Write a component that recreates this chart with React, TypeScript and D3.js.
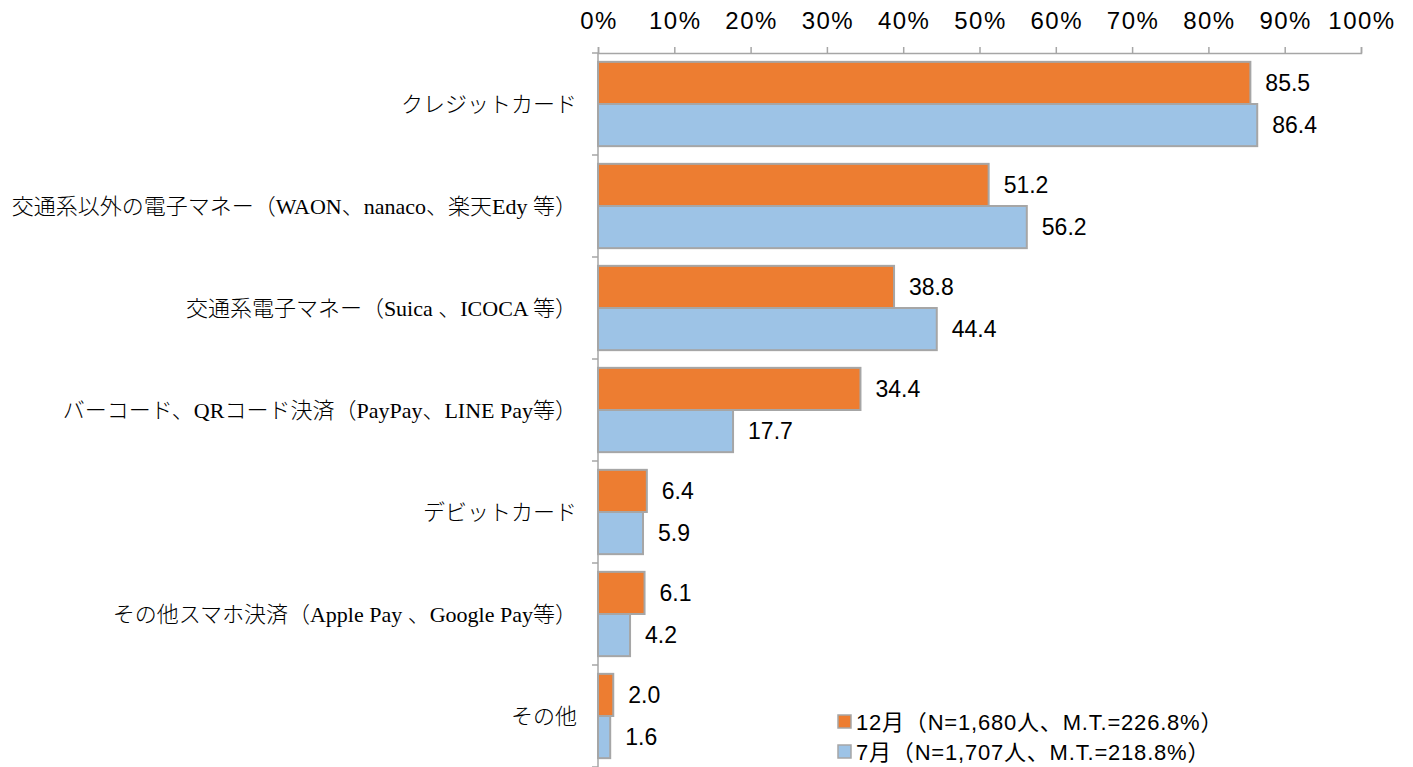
import React, { useEffect, useRef } from 'react';
import * as d3 from 'd3';

const categories = [
  'クレジットカード',
  '交通系以外の電子マネー（WAON、nanaco、楽天Edy 等）',
  '交通系電子マネー（Suica 、ICOCA 等）',
  'バーコード、QRコード決済（PayPay、LINE Pay等）',
  'デビットカード',
  'その他スマホ決済（Apple Pay 、Google Pay等）',
  'その他',
];
const dec = [85.5, 51.2, 38.8, 34.4, 6.4, 6.1, 2.0];
const jul = [86.4, 56.2, 44.4, 17.7, 5.9, 4.2, 1.6];
const seriesNames = ['12月（N=1,680人、M.T.=226.8%）', '7月（N=1,707人、M.T.=218.8%）'];
const seriesKeys = ['dec', 'jul'];
const colors = ['#ED7D31', '#9DC3E6'];
const xTicks = [0, 10, 20, 30, 40, 50, 60, 70, 80, 90, 100];

export default function App() {
  const ref = useRef<SVGSVGElement>(null);

  useEffect(() => {
    const width = 1413;
    const height = 767;
    const left = 598, right = 1361, top = 53, bottom = 767;

    const svg = d3.select(ref.current).attr('width', width).attr('height', height);
    svg.selectAll('*').remove();

    const x = d3.scaleLinear().domain([0, 100]).range([left, right]);
    const y = d3.scaleBand<string>().domain(categories).range([top, bottom]).paddingInner(0);
    const ySub = d3.scaleBand<string>().domain(seriesKeys).range([0, y.bandwidth()]).paddingInner(0).paddingOuter(0.21);

    const rows = categories.map((c, i) => ({ c, dec: dec[i], jul: jul[i] }));

    // top axis, labels drawn separately
    const xAxis = d3.axisTop(x).tickValues(xTicks).tickSize(6).tickFormat(() => '');
    const gx = svg.append('g').attr('transform', `translate(0, ${top})`).call(xAxis);
    gx.select('.domain').attr('stroke', '#a6a6a6').attr('stroke-width', 1.5);
    gx.selectAll('.tick line').attr('stroke', '#a6a6a6').attr('stroke-width', 1.5);

    svg.append('g').selectAll('text').data(xTicks).join('text')
      .attr('x', d => x(d) + 1)
      .attr('y', 20)
      .attr('text-anchor', 'middle')
      .attr('dominant-baseline', 'central')
      .style('font-family', 'Liberation Sans, Arial, sans-serif')
      .style('font-size', '24px')
      .style('letter-spacing', '1.5px')
      .attr('fill', '#000')
      .text(d => `${d}%`);

    // left axis
    svg.append('line')
      .attr('x1', left).attr('x2', left).attr('y1', top).attr('y2', bottom)
      .attr('stroke', '#a6a6a6').attr('stroke-width', 1.5);
    const boundaries = categories.map(c => y(c) as number).concat([bottom]);
    svg.append('g').selectAll('line').data(boundaries).join('line')
      .attr('x1', left - 6).attr('x2', left).attr('y1', d => d).attr('y2', d => d)
      .attr('stroke', '#a6a6a6').attr('stroke-width', 1.5);

    // category labels
    svg.append('g').selectAll('text').data(categories).join('text')
      .attr('x', 577)
      .attr('y', d => (y(d) as number) + y.bandwidth() / 2)
      .attr('text-anchor', 'end')
      .attr('dominant-baseline', 'central')
      .style('font-family', '"Liberation Serif", "Noto Sans CJK JP", serif')
      .style('font-size', '22px')
      .style('font-weight', '300')
      .attr('fill', '#000')
      .text(d => d);

    // bars + value labels
    seriesKeys.forEach((k, si) => {
      const g = svg.append('g');
      g.selectAll('rect').data(rows).join('rect')
        .attr('x', x(0))
        .attr('y', d => (y(d.c) as number) + (ySub(k) as number))
        .attr('width', d => x((d as any)[k]) - x(0))
        .attr('height', ySub.bandwidth())
        .attr('fill', colors[si])
        .attr('stroke', '#a6a6a6')
        .attr('stroke-width', 2);
      g.selectAll('text').data(rows).join('text')
        .attr('x', d => x((d as any)[k]) + 15)
        .attr('y', d => (y(d.c) as number) + (ySub(k) as number) + ySub.bandwidth() / 2)
        .attr('dominant-baseline', 'central')
        .style('font-family', 'Liberation Sans, Arial, sans-serif')
        .style('font-size', '23px')
        .attr('fill', '#000')
        .text(d => ((d as any)[k] as number).toFixed(1));
    });

    // legend
    const legend = svg.append('g').attr('transform', 'translate(838, 715)');
    seriesNames.forEach((name, i) => {
      legend.append('rect')
        .attr('x', 0).attr('y', i * 30)
        .attr('width', 13).attr('height', 13)
        .attr('fill', colors[i]).attr('stroke', '#a6a6a6').attr('stroke-width', 1.5);
      legend.append('text')
        .attr('x', 18).attr('y', i * 30 + 7)
        .attr('dominant-baseline', 'central')
        .style('font-family', 'Liberation Sans, "Noto Sans CJK JP", sans-serif')
        .style('font-size', '22px')
        .style('letter-spacing', '0.8px')
        .attr('fill', '#000')
        .text(name);
    });
  }, []);

  return (
    <svg ref={ref} style={{ position: 'absolute', left: 0, top: 0, display: 'block', background: '#fff' }} />
  );
}
